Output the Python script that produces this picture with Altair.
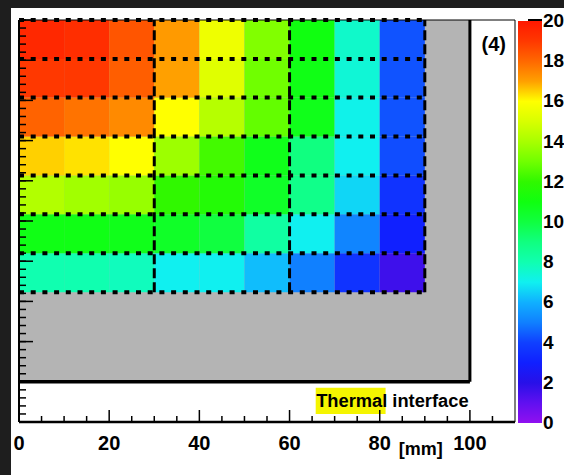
import altair as alt
import pandas as pd

# ---------------- data ----------------
col_edges = [0, 10, 20, 30, 40, 50, 60, 70, 80, 90]
row_edges = [32.3, 42.0, 51.7, 61.3, 71.0, 80.7, 90.3, 100.0]
# cell values, bottom row first, columns left -> right
row_values = [
    [8.0, 8.0, 7.8, 7.0, 7.0, 6.2, 5.0, 3.6, 1.6],
    [10.9, 10.9, 10.8, 10.5, 10.0, 8.3, 7.0, 5.1, 3.0],
    [14.2, 13.9, 13.7, 12.0, 11.6, 10.5, 8.8, 6.6, 3.6],
    [16.5, 16.3, 16.0, 13.8, 12.3, 10.8, 9.0, 7.0, 4.2],
    [18.1, 17.8, 17.4, 16.0, 14.3, 12.8, 10.8, 7.1, 4.3],
    [19.0, 19.0, 18.2, 17.0, 15.2, 13.0, 10.9, 7.4, 4.3],
    [19.5, 19.3, 18.4, 17.1, 15.6, 13.3, 11.0, 7.6, 4.3],
]
dash_cols = [30, 60, 90]
x_label_values = [0, 20, 40, 60, 80, 100]
x_major_ticks = [0, 20, 40, 60, 80, 100]
x_minor_ticks = [5, 10, 15, 25, 30, 35, 45, 50, 55, 65, 70, 75, 85, 90, 95, 105]
y_major_ticks = [0, 10, 20, 30, 40, 50, 60, 70, 80, 90, 100]
y_minor_ticks = list(range(0, 101, 2))
cb_ticks = [0, 2, 4, 6, 8, 10, 12, 14, 16, 18, 20]
cb_stops = list(range(0, 21))
cb_colors = ["#9010f0", "#6010f0", "#2810e8", "#1020ff", "#1040ff", "#1080ff",
             "#10b0ff", "#10f0f0", "#10ffb0", "#10ff80", "#10ff40", "#10ff10",
             "#30f800", "#70ff00", "#a8ff00", "#d8ff00", "#ffff00", "#ffa000",
             "#ff6800", "#ff3800", "#ff1800"]

# ---------------- tables ----------------
cells = []
for i, row in enumerate(row_values):
    for j, v in enumerate(row):
        cells.append(dict(x0=col_edges[j], x1=col_edges[j] + 10,
                          y0=row_edges[i], y1=row_edges[i + 1], v=v))
cells = pd.DataFrame(cells)
one = pd.DataFrame({"a": [0]})

FONT = "Liberation Sans, Arial, Helvetica, sans-serif"
XS = alt.Scale(domain=[0, 110], nice=False, zero=False)
YS = alt.Scale(domain=[0, 100], nice=False, zero=False)
CS = alt.Scale(domain=cb_stops, range=cb_colors, interpolate="rgb")

panel = alt.Chart(one).mark_rect(color="white").encode(
    x=alt.value(-8), x2=alt.value(545), y=alt.value(-12), y2=alt.value(455))

gray = alt.Chart(one).mark_rect(color="#b4b4b4").encode(
    x=alt.datum(0, scale=XS), x2=alt.datum(100),
    y=alt.datum(10, scale=YS), y2=alt.datum(100))

gray_right = alt.Chart(one).mark_rule(color="black", strokeWidth=3).encode(
    x=alt.datum(100, scale=XS), y=alt.datum(10, scale=YS), y2=alt.datum(100))
gray_bottom = alt.Chart(one).mark_rule(color="black", strokeWidth=3.5).encode(
    y=alt.datum(10, scale=YS), x=alt.datum(0, scale=XS), x2=alt.datum(100))

frame_top = alt.Chart(one).mark_rule(color="black", strokeWidth=1).encode(
    y=alt.datum(100, scale=YS), x=alt.datum(0, scale=XS), x2=alt.datum(110))
frame_right = alt.Chart(one).mark_rule(color="black", strokeWidth=1).encode(
    x=alt.datum(110, scale=XS), y=alt.datum(0, scale=YS), y2=alt.datum(100))
axis_bottom = alt.Chart(one).mark_rule(color="black", strokeWidth=2.5).encode(
    y=alt.datum(0, scale=YS), x=alt.datum(0, scale=XS), x2=alt.datum(110))
axis_left = alt.Chart(one).mark_rule(color="black", strokeWidth=2).encode(
    x=alt.datum(0, scale=XS), y=alt.datum(0, scale=YS), y2=alt.datum(100))

heat = alt.Chart(cells).mark_rect().encode(
    x=alt.X("x0:Q", scale=XS), x2="x1:Q",
    y=alt.Y("y0:Q", scale=YS), y2="y1:Q",
    color=alt.Color("v:Q", scale=CS, legend=alt.Legend(
        orient="none", legendX=499, legendY=1, direction="vertical",
        gradientLength=402, gradientThickness=24, gradientStrokeWidth=0,
        title=None, labelExpr="''", padding=0, tickCount=20)),
)

hdash = alt.Chart(pd.DataFrame({"y": row_edges})).mark_rule(
    color="black", strokeWidth=4, strokeDash=[5, 6.7]).encode(
    y=alt.Y("y:Q", scale=YS),
    x=alt.datum(0, scale=XS), x2=alt.datum(90))
vdash = alt.Chart(pd.DataFrame({"x": dash_cols})).mark_rule(
    color="black", strokeWidth=3, strokeDash=[10, 4]).encode(
    x=alt.X("x:Q", scale=XS),
    y=alt.datum(row_edges[0], scale=YS), y2=alt.datum(100))

label4 = alt.Chart(one).mark_text(
    text="(4)", font=FONT, fontSize=20, fontWeight="bold", color="black",
    align="center", baseline="middle").encode(
    x=alt.datum(105.3, scale=XS), y=alt.datum(93.9, scale=YS))

highlight = alt.Chart(one).mark_rect(color="#f5f500").encode(
    x=alt.datum(65.8, scale=XS), x2=alt.datum(81.3),
    y=alt.datum(2.0, scale=YS), y2=alt.datum(8.5))
thermal = alt.Chart(one).mark_text(
    text="Thermal interface", font=FONT, fontSize=18.3, fontWeight="bold",
    color="black", align="left", baseline="alphabetic").encode(
    x=alt.datum(65.9, scale=XS), y=alt.datum(3.8, scale=YS))
mm = alt.Chart(one).mark_text(
    text="[mm]", font=FONT, fontSize=18, fontWeight="bold", color="black",
    align="center", baseline="middle").encode(
    x=alt.datum(89.1, scale=XS), y=alt.datum(-7.0, scale=YS))

xlab = alt.Chart(pd.DataFrame({"v": x_label_values})).mark_text(
    font=FONT, fontSize=20, fontWeight="bold", color="black",
    align="center", baseline="alphabetic").encode(
    x=alt.X("v:Q", scale=XS), y=alt.value(430), text=alt.Text("v:Q", format="d"))

xt_major = alt.Chart(pd.DataFrame({"t": x_major_ticks})).mark_rule(
    color="black", strokeWidth=1.5).encode(
    x=alt.X("t:Q", scale=XS), y=alt.value(402), y2=alt.value(390))
xt_minor = alt.Chart(pd.DataFrame({"t": x_minor_ticks})).mark_rule(
    color="black", strokeWidth=1.5).encode(
    x=alt.X("t:Q", scale=XS), y=alt.value(402), y2=alt.value(396))
yt_major = alt.Chart(pd.DataFrame({"t": y_major_ticks})).mark_rule(
    color="black", strokeWidth=1.5).encode(
    y=alt.Y("t:Q", scale=YS), x=alt.value(0), x2=alt.value(14))
yt_minor = alt.Chart(pd.DataFrame({"t": y_minor_ticks})).mark_rule(
    color="black", strokeWidth=1.5).encode(
    y=alt.Y("t:Q", scale=YS), x=alt.value(0), x2=alt.value(7))

cb = alt.Chart(pd.DataFrame({"v": cb_ticks})).transform_calculate(yy="datum.v * 5")
cb_tick = cb.mark_rule(color="black", strokeWidth=2).encode(
    y=alt.Y("yy:Q", scale=YS), x=alt.value(509), x2=alt.value(523))
cb_label = cb.mark_text(font=FONT, fontSize=19, fontWeight="bold", color="black",
                        align="left", baseline="alphabetic", dy=7).encode(
    y=alt.Y("yy:Q", scale=YS), x=alt.value(524),
    text=alt.Text("v:Q", format="d"))

chart = alt.layer(
    panel, gray, heat, hdash, vdash, gray_right, gray_bottom,
    frame_top, frame_right, label4, highlight, thermal, mm,
    axis_bottom, axis_left, xlab,
    xt_major, xt_minor, yt_major, yt_minor, cb_tick, cb_label,
).properties(
    width=496, height=402, autosize="none",
    padding={"left": 19, "top": 20, "right": 49, "bottom": 53},
    background="#1e1e1e",
).configure_view(strokeWidth=0).configure_axis(disable=True)

chart.save("out.html", embed_options={"renderer": "svg", "actions": False})
